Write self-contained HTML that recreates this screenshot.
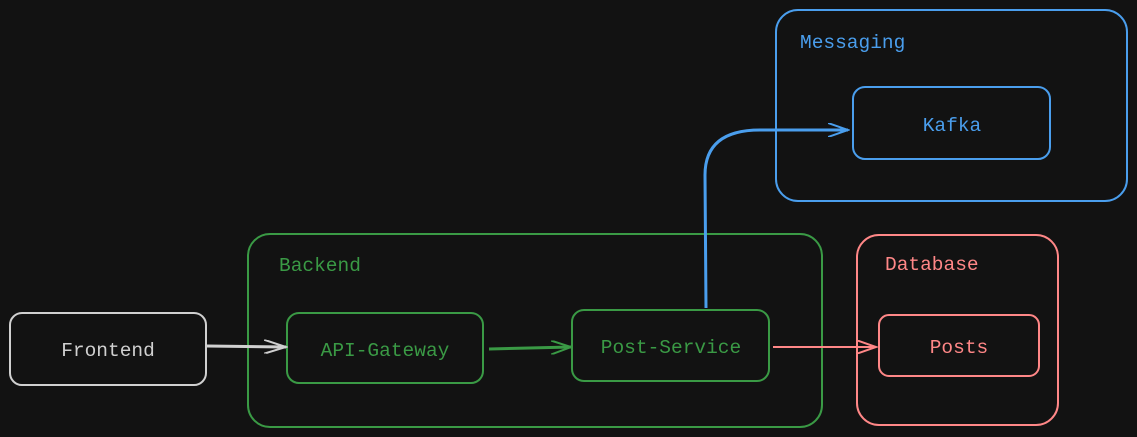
<!DOCTYPE html>
<html><head><meta charset="utf-8"><style>
html,body{margin:0;padding:0;background:#121212;}
svg{display:block}
text{font-family:"Liberation Mono","DejaVu Sans Mono",monospace;font-size:19.5px;}
</style></head><body>
<svg width="1137" height="437" viewBox="0 0 1137 437" xmlns="http://www.w3.org/2000/svg">
<rect width="1137" height="437" fill="#121212"/>
<defs>
<marker id="ag" markerWidth="24" markerHeight="14" refX="22" refY="7" orient="auto" markerUnits="userSpaceOnUse"><path d="M0,0 L22,7 L0,14" fill="none" stroke="#d0d0d0" stroke-width="2"/></marker>
<marker id="agr" markerWidth="22" markerHeight="14" refX="20" refY="7" orient="auto" markerUnits="userSpaceOnUse"><path d="M0,0 L20,7 L0,14" fill="none" stroke="#3a9a45" stroke-width="2"/></marker>
<marker id="ar" markerWidth="22" markerHeight="14" refX="20" refY="7" orient="auto" markerUnits="userSpaceOnUse"><path d="M0,0 L20,7 L0,14" fill="none" stroke="#ff8787" stroke-width="2"/></marker>
<marker id="ab" markerWidth="22" markerHeight="14" refX="20" refY="7" orient="auto" markerUnits="userSpaceOnUse"><path d="M0,0 L20,7 L0,14" fill="none" stroke="#4a9eed" stroke-width="2"/></marker>
</defs>
<rect x="776" y="10" width="351" height="191" rx="22" fill="none" stroke="#4a9eed" stroke-width="2"/>
<text x="800" y="48" fill="#4a9eed">Messaging</text>
<rect x="248" y="234" width="574" height="193" rx="22" fill="none" stroke="#3a9a45" stroke-width="2"/>
<text x="279" y="271" fill="#3a9a45">Backend</text>
<rect x="857" y="235" width="201" height="190" rx="22" fill="none" stroke="#ff8787" stroke-width="2"/>
<text x="885" y="270" fill="#ff8787">Database</text>
<rect x="10" y="313" width="196" height="72" rx="12" fill="none" stroke="#d0d0d0" stroke-width="2"/>
<text x="108" y="356" fill="#d0d0d0" text-anchor="middle">Frontend</text>
<rect x="287" y="313" width="196" height="70" rx="12" fill="none" stroke="#3a9a45" stroke-width="2"/>
<text x="385" y="356" fill="#3a9a45" text-anchor="middle">API-Gateway</text>
<rect x="572" y="310" width="197" height="71" rx="12" fill="none" stroke="#3a9a45" stroke-width="2"/>
<text x="671" y="353" fill="#3a9a45" text-anchor="middle">Post-Service</text>
<rect x="879" y="315" width="160" height="61" rx="10" fill="none" stroke="#ff8787" stroke-width="2"/>
<text x="959" y="353" fill="#ff8787" text-anchor="middle">Posts</text>
<rect x="853" y="87" width="197" height="72" rx="12" fill="none" stroke="#4a9eed" stroke-width="2"/>
<text x="952" y="131" fill="#4a9eed" text-anchor="middle">Kafka</text>
<path d="M207,346 L286,347" fill="none" stroke="#d0d0d0" stroke-width="3" marker-end="url(#ag)"/>
<path d="M489,349 L571,347" fill="none" stroke="#3a9a45" stroke-width="3" marker-end="url(#agr)"/>
<path d="M773,347 L876,347" fill="none" stroke="#ff8787" stroke-width="2" marker-end="url(#ar)"/>
<path d="M706,308 L705,175 Q705,130 760,130 L848,130" fill="none" stroke="#4a9eed" stroke-width="3" marker-end="url(#ab)"/>
</svg>
</body></html>
